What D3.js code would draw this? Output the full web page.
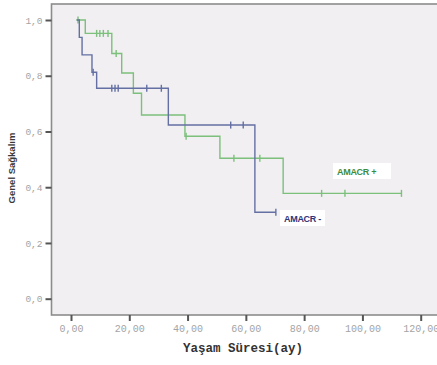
<!DOCTYPE html>
<html><head><meta charset="utf-8">
<script src="https://cdn.jsdelivr.net/npm/d3@7"></script>
<style>html,body{margin:0;padding:0;background:#fff;}svg{display:block;}</style>
</head><body>
<script>
// ---- data ----
const xTicks = [0, 20, 40, 60, 80, 100, 120];
const yTicks = [0, 0.2, 0.4, 0.6, 0.8, 1.0];

const negStart = 2.0;
const negEventTimes = [2.85, 3.8, 7.2, 8.8, 33.4, 63.1];
const negSurv = [0.9375, 0.875, 0.8125, 0.755, 0.623, 0.31];
const negEnd = 70.3;
const negCensor = [7.6, 14.0, 15.1, 16.2, 26.0, 31.0, 54.8, 59.1, 70.3];

const posStart = 1.8;
const posEventTimes = [4.9, 14.0, 17.4, 21.4, 24.2, 39.1, 51.1, 72.8];
const posSurv = [0.952, 0.88, 0.81, 0.737, 0.659, 0.583, 0.504, 0.378];
const posEnd = 113.4;
const posCensor = [2.4, 8.8, 9.9, 11.1, 12.7, 15.5, 39.5, 55.9, 64.8, 86.0, 94.0, 113.4];

const labels = ["AMACR +", "AMACR -"];

// ---- chart ----
const W = 437, H = 365;
const svg = d3.select("body").append("svg").attr("width", W).attr("height", H);

const x = d3.scaleLinear().domain([0, 120]).range([71, 420.7]);
const y = d3.scaleLinear().domain([0, 1]).range([298.7, 20]);

const frameLeft = 51.5, frameTop = 4, frameBottom = 315;
svg.append("rect").attr("x", frameLeft).attr("y", frameTop).attr("width", W + 10 - frameLeft).attr("height", frameBottom - frameTop)
  .attr("fill", "#f1eff1").attr("stroke", "#8c8c8c").attr("stroke-width", 1.6);

const comma = s => s.replace(".", ",");
const xAxis = d3.axisBottom(x).tickValues(xTicks).tickSize(6).tickPadding(4)
  .tickFormat(d => comma(d.toFixed(2)));
const gx = svg.append("g").attr("transform", `translate(0,${frameBottom})`).call(xAxis);
gx.select(".domain").remove();
gx.selectAll("line").attr("stroke", "#555").attr("stroke-width", 2);
gx.selectAll("text").attr("font-family", "'Liberation Mono', monospace").attr("font-size", 10).attr("fill", "#a4a4a4");

const yAxis = d3.axisLeft(y).tickValues(yTicks).tickSize(6).tickPadding(3)
  .tickFormat(d => comma(d.toFixed(1)));
const gy = svg.append("g").attr("transform", `translate(${frameLeft},0)`).call(yAxis);
gy.select(".domain").remove();
gy.selectAll("line").attr("stroke", "#555").attr("stroke-width", 2);
gy.selectAll("text").attr("font-family", "'Liberation Mono', monospace").attr("font-size", 9.5).attr("fill", "#a4a4a4");

svg.append("text").attr("x", 243).attr("y", 352).attr("text-anchor", "middle")
  .attr("font-family", "'Liberation Mono', monospace").attr("font-weight", "bold").attr("font-size", 12.5)
  .attr("fill", "#333").text("Yaşam Süresi(ay)");

svg.append("text").attr("transform", "translate(15,168) rotate(-90)").attr("text-anchor", "middle")
  .attr("font-family", "'Liberation Sans', Arial, sans-serif").attr("font-weight", "bold").attr("font-size", 9.5)
  .attr("fill", "#3a3a3a").text("Genel Sağkalım");

function stepPoints(start, times, surv, end) {
  const pts = [[start, 1]];
  times.forEach((t, i) => pts.push([t, surv[i]]));
  pts.push([end, surv[surv.length - 1]]);
  return pts;
}
function survAt(times, surv, t) {
  let s = 1;
  times.forEach((tt, i) => { if (tt <= t) s = surv[i]; });
  return s;
}
const line = d3.line().x(d => x(d[0])).y(d => y(d[1])).curve(d3.curveStepAfter);

function drawSeries(start, times, surv, end, censor, color) {
  svg.append("path").datum(stepPoints(start, times, surv, end))
    .attr("d", line).attr("fill", "none").attr("stroke", color).attr("stroke-width", 1.4);
  svg.append("g").selectAll("line").data(censor).join("line")
    .attr("x1", d => x(d)).attr("x2", d => x(d))
    .attr("y1", d => y(survAt(times, surv, d)) - 3.5)
    .attr("y2", d => y(survAt(times, surv, d)) + 3.5)
    .attr("stroke", color).attr("stroke-width", 1.4);
}
drawSeries(posStart, posEventTimes, posSurv, posEnd, posCensor, "#7cc07c");
drawSeries(negStart, negEventTimes, negSurv, negEnd, negCensor, "#6470a4");

function drawLabel(lx, ly, w, txt, color) {
  svg.append("rect").attr("x", lx - 4).attr("y", ly - 9).attr("width", w).attr("height", 16).attr("fill", "#fff");
  svg.append("text").attr("x", lx).attr("y", ly + 3).attr("font-family", "'Liberation Sans', Arial, sans-serif")
    .attr("font-weight", "bold").attr("font-size", 9).attr("letter-spacing", -0.3).attr("fill", color).text(txt);
}
drawLabel(337, 172, 58, labels[0], "#3c8c3c");
drawLabel(284, 219, 45, labels[1], "#2e3478");
</script>
</body></html>
